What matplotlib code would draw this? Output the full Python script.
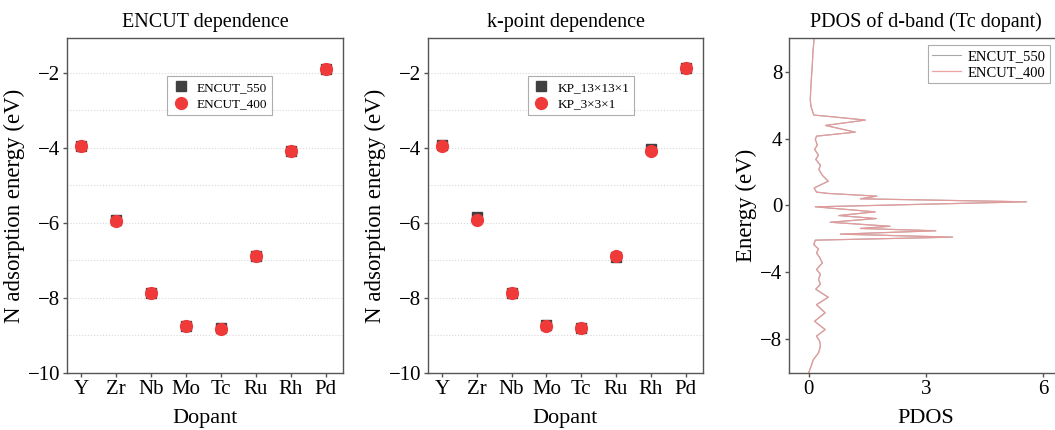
import matplotlib
matplotlib.use('Agg')
import matplotlib.pyplot as plt
from matplotlib.ticker import MultipleLocator

plt.rcParams['font.family'] = ['Liberation Serif', 'DejaVu Serif']
plt.rcParams['mathtext.fontset'] = 'stix'

dopants = ['Y', 'Zr', 'Nb', 'Mo', 'Tc', 'Ru', 'Rh', 'Pd']

# N adsorption energy (eV)
encut_550 = [-3.95, -5.93, -7.87, -8.74, -8.81, -6.88, -4.07, -1.89]
encut_400 = [-3.96, -5.94, -7.88, -8.75, -8.82, -6.89, -4.08, -1.89]
kp_13 = [-3.92, -5.85, -7.86, -8.73, -8.80, -6.91, -4.03, -1.88]
kp_3 = [-3.95, -5.93, -7.87, -8.74, -8.81, -6.88, -4.07, -1.88]

# PDOS of Tc d-band
energy = [10.0, 9.2, 8.3, 7.3, 6.3, 5.9, 5.4, 5.32, 5.1, 4.78, 4.38, 4.14, 3.95,
          3.6, 3.35, 3.0, 2.75, 2.4, 2.15, 1.8, 1.45, 1.05, 0.8, 0.72, 0.56,
          0.40, 0.22, -0.08, -0.38, -0.60, -0.78, -1.0, -1.24, -1.37, -1.51,
          -1.71, -1.89, -2.07, -2.33, -2.6, -2.83, -3.1, -3.43, -3.82, -4.1,
          -4.42, -4.7, -5.0, -5.48, -5.92, -6.41, -6.91, -7.41, -7.8, -8.1,
          -8.4, -8.8, -9.2, -9.8, -10.0]
pdos_400 = [0.14, 0.11, 0.09, 0.06, 0.04, 0.06, 0.13, 0.5, 1.45, 0.43, 1.19, 0.2,
            0.17, 0.22, 0.15, 0.25, 0.18, 0.3, 0.26, 0.35, 0.5, 0.14, 0.2, 0.5,
            1.74, 1.32, 5.57, 0.17, 1.70, 0.77, 1.73, 0.55, 2.08, 1.32, 3.25,
            0.81, 3.68, 0.17, 0.13, 0.25, 0.2, 0.28, 0.35, 0.2, 0.3, 0.25,
            0.3, 0.18, 0.5, 0.2, 0.42, 0.15, 0.42, 0.2, 0.28, 0.3, 0.25, 0.12,
            0.03, 0.0]
pdos_550 = list(pdos_400)

red = '#f03a3a'
dark = '#404040'
spine = '#555555'

fig = plt.figure(figsize=(10.55, 4.3), dpi=100)
ax1 = fig.add_axes([0.0635, 0.1326, 0.2616, 0.779])
ax2 = fig.add_axes([0.4057, 0.1326, 0.2607, 0.779])
ax3 = fig.add_axes([0.748, 0.1326, 0.2595, 0.779])

x = range(len(dopants))


def style(ax):
    for s in ax.spines.values():
        s.set_color(spine)
        s.set_linewidth(1.0)
    ax.tick_params(direction='out', length=3, width=1, color=spine,
                   labelsize=15, pad=2)


for ax, s1, s2, l1, l2, title in [
        (ax1, encut_550, encut_400, 'ENCUT_550', 'ENCUT_400', 'ENCUT dependence'),
        (ax2, kp_13, kp_3, 'KP_13×13×1', 'KP_3×3×1', 'k-point dependence')]:
    ax.plot(x, s1, 's', color=dark, ms=7, label=l1)
    ax.plot(x, s2, 'o', color=red, ms=8.5, label=l2)
    ax.set_xlim(-0.4, 7.5)
    ax.set_ylim(-10, -1.07)
    ax.set_xticks(list(x))
    ax.set_xticklabels(dopants)
    ax.yaxis.set_major_locator(MultipleLocator(2))
    ax.yaxis.set_minor_locator(MultipleLocator(1))
    ax.tick_params(axis='y', which='minor', length=0)
    ax.grid(axis='y', which='both', color='#d8d8d8', linestyle=':', linewidth=0.8)
    ax.set_axisbelow(True)
    ax.set_title(title, fontsize=14.5, pad=8)
    ax.set_xlabel('Dopant', fontsize=16, labelpad=7)
    ax.set_ylabel('N adsorption energy (eV)', fontsize=16.5, labelpad=2)
    style(ax)
    leg = ax.legend(loc='upper left', bbox_to_anchor=(0.34, 0.905), fontsize=9.5,
                    frameon=True, fancybox=False, edgecolor='#999999',
                    handletextpad=0.6, borderpad=0.4, labelspacing=0.3,
                    handlelength=1.2)
    leg.get_frame().set_linewidth(0.8)

ax3.plot(pdos_550, energy, color='#a8a8a8', lw=0.8, label='ENCUT_550')
ax3.plot(pdos_400, energy, color='#e89a9a', lw=0.9, alpha=0.9, label='ENCUT_400')
ax3.set_xlim(-0.5, 6.5)
ax3.set_ylim(-10, 10)
ax3.set_xticks([0, 3, 6])
ax3.set_yticks([-8, -4, 0, 4, 8])
ax3.set_title('PDOS of d-band (Tc dopant)', fontsize=14.5, pad=8)
ax3.set_xlabel('PDOS', fontsize=16, labelpad=7)
ax3.set_ylabel('Energy (eV)', fontsize=16.5, labelpad=2)
style(ax3)
leg3 = ax3.legend(loc='upper right', bbox_to_anchor=(1057 / 1055, 1 - 38 / 430),
                  bbox_transform=fig.transFigure, fontsize=10.5,
                  frameon=True, fancybox=False, edgecolor='#999999',
                  borderpad=0.3, labelspacing=0.2, handlelength=2.0,
                  handletextpad=0.4)
leg3.get_frame().set_linewidth(0.8)

fig.savefig('out.png', dpi=100)
